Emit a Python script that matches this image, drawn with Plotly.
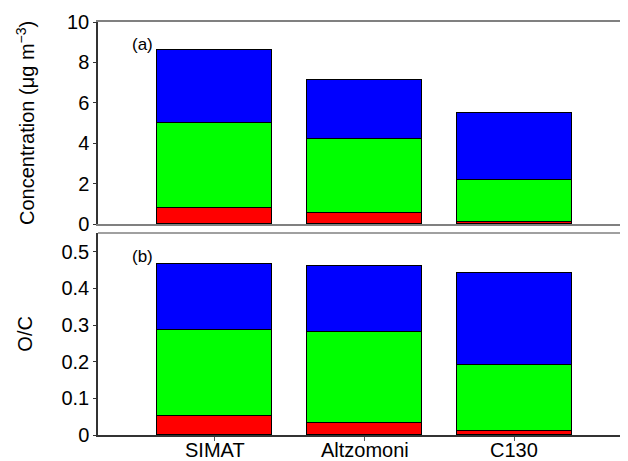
import plotly.graph_objects as go

sites = ["SIMAT", "Altzomoni", "C130"]
# Concentration (ug m-3), stacked components
conc_red = [0.81, 0.53, 0.11]
conc_green = [4.17, 3.66, 2.08]
conc_blue = [3.63, 2.92, 3.31]
# O/C, stacked components
oc_red = [0.053, 0.032, 0.011]
oc_green = [0.233, 0.248, 0.180]
oc_blue = [0.180, 0.181, 0.250]

colors = ["#ff0000", "#00ff00", "#0000ff"]
W = 0.767

fig = go.Figure()
for vals, c in zip([conc_red, conc_green, conc_blue], colors):
    fig.add_trace(go.Bar(x=sites, y=vals, marker=dict(color=c, line=dict(color="black", width=1)),
                         width=W, xaxis="x", yaxis="y", showlegend=False))
for vals, c in zip([oc_red, oc_green, oc_blue], colors):
    fig.add_trace(go.Bar(x=sites, y=vals, marker=dict(color=c, line=dict(color="black", width=1)),
                         width=W, xaxis="x2", yaxis="y2", showlegend=False))

font = dict(family="Liberation Sans, Arial", size=20, color="black")
small = dict(family="Liberation Sans, Arial", size=17, color="black")
xr = [-0.777, 2.757]

annotations = [
    dict(text="Concentration (μg m<sup>−3</sup>)", xref="paper", yref="paper", x=-0.138, y=0.755,
         textangle=-90, showarrow=False, font=font, xanchor="center", yanchor="middle"),
    dict(text="O/C", xref="paper", yref="paper", x=-0.138, y=0.245,
         textangle=-90, showarrow=False, font=font, xanchor="center", yanchor="middle"),
    dict(text="(a)", xref="x", yref="y", x=-0.477, y=8.9, showarrow=False, font=small),
    dict(text="(b)", xref="x2", yref="y2", x=-0.477, y=0.486, showarrow=False, font=small),
]
for s in sites:
    annotations.append(dict(text=s, xref="x2", yref="paper", x=s, y=-0.037, showarrow=False,
                            font=font, xanchor="center", yanchor="middle"))

fig.update_layout(
    width=620, height=453,
    margin=dict(l=90, r=0, t=14, b=26),
    paper_bgcolor="white", plot_bgcolor="white",
    barmode="stack", bargap=0,
    font=font,
    xaxis=dict(domain=[0, 1], anchor="y", range=xr, showticklabels=False, ticks="",
               showline=True, linecolor="#808080", linewidth=1.5, mirror=True, showgrid=False, zeroline=False),
    yaxis=dict(domain=[0.5109, 1], anchor="x", range=[0, 10], tickvals=[0, 2, 4, 6, 8, 10],
               ticks="outside", ticklen=3, tickcolor="#333", showline=True, linecolor="#333", linewidth=1.5,
               showgrid=False, zeroline=False, tickfont=font),
    xaxis2=dict(domain=[0, 1], anchor="y2", range=xr, ticks="outside", ticklen=4, tickcolor="#555",
                showticklabels=False,
                showline=True, linecolor="#333", linewidth=1.5, mirror=False, showgrid=False,
                zeroline=False, automargin=False),
    yaxis2=dict(domain=[0, 0.4891], anchor="x2", range=[0, 0.551],
                tickvals=[0, 0.1, 0.2, 0.3, 0.4, 0.5], ticktext=["0", "0.1", "0.2", "0.3", "0.4", "0.5"],
                ticks="outside", ticklen=3, tickcolor="#333", showline=True, linecolor="#333", linewidth=1.5,
                showgrid=False, zeroline=False, tickfont=font),
    shapes=[dict(type="line", xref="paper", yref="paper", x0=0, x1=1, y0=0.4891, y1=0.4891,
                 line=dict(color="#808080", width=1.5))],
    annotations=annotations,
)
fig.write_html("out.html")
